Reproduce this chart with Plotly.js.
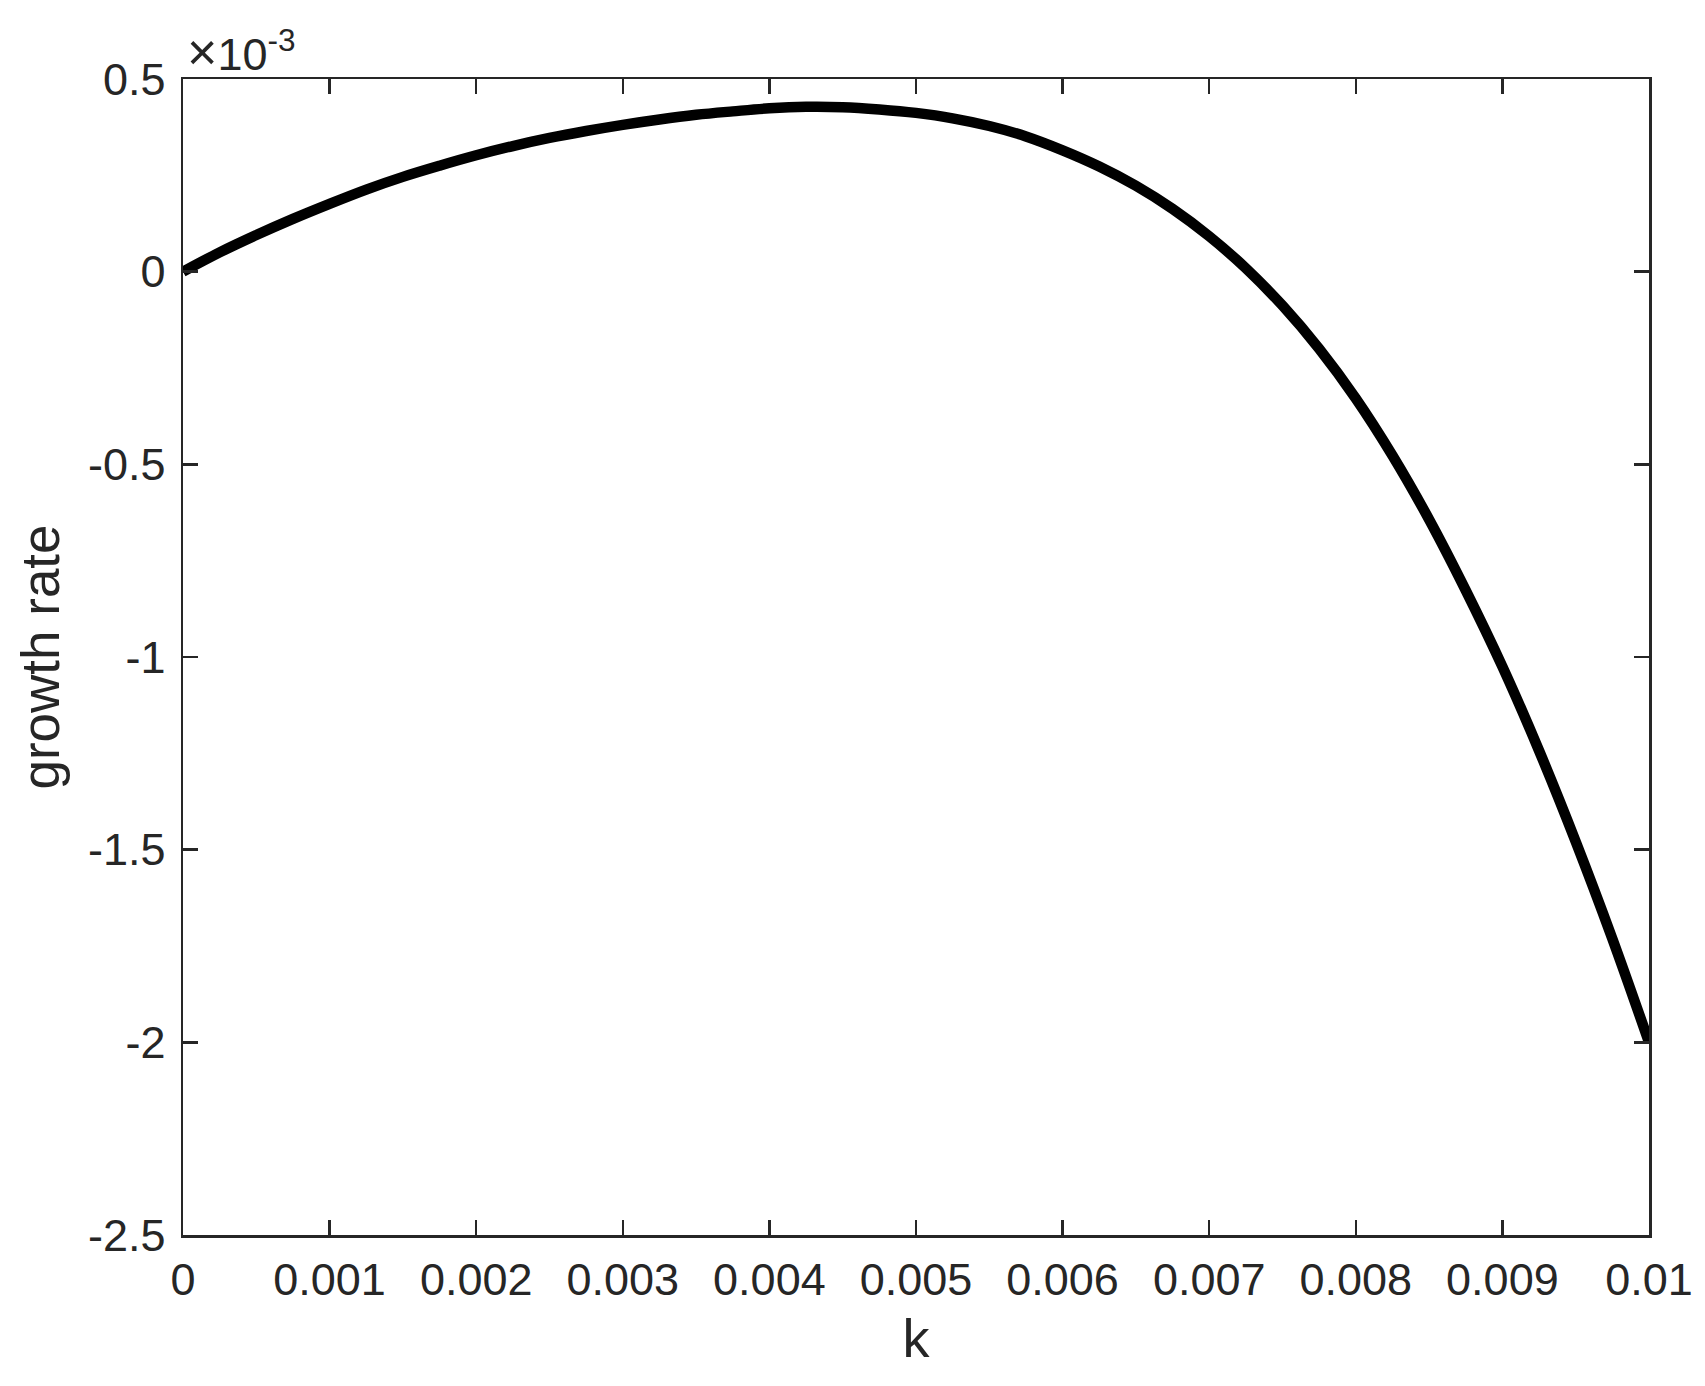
<!DOCTYPE html>
<html>
<head>
<meta charset="utf-8">
<script src="https://cdn.plot.ly/plotly-3.0.1.min.js"></script>
<style>
  html, body { margin: 0; padding: 0; background: #ffffff; }
  #chart { width: 1705px; height: 1386px; }
</style>
</head>
<body>
<div id="chart"></div>
<script>
// k values (wavenumber)
const k = [0, 0.00025, 0.0005, 0.00075, 0.001, 0.00125, 0.0015, 0.00175, 0.002, 0.00225,
           0.0025, 0.00275, 0.003, 0.00325, 0.0035, 0.00375, 0.004, 0.00425, 0.0045, 0.00475,
           0.005, 0.00525, 0.0055, 0.00575, 0.006, 0.00625, 0.0065, 0.00675, 0.007, 0.00725,
           0.0075, 0.00775, 0.008, 0.00825, 0.0085, 0.00875, 0.009, 0.00925, 0.0095, 0.00975,
           0.01];
// growth rate, in units of 1e-3 (as read on the axis with the ×10^-3 multiplier)
const growthRate = [0, 0.050, 0.095, 0.137, 0.176, 0.213, 0.246, 0.275, 0.302, 0.326,
                    0.347, 0.365, 0.381, 0.395, 0.407, 0.416, 0.424, 0.428, 0.427, 0.421,
                    0.412, 0.398, 0.378, 0.351, 0.315, 0.273, 0.223, 0.163, 0.092, 0.009,
                    -0.088, -0.200, -0.329, -0.477, -0.643, -0.827, -1.025, -1.243, -1.479, -1.731,
                    -2.0];
const xTickVals = [0, 0.001, 0.002, 0.003, 0.004, 0.005, 0.006, 0.007, 0.008, 0.009, 0.01];
const xTickText = ['0', '0.001', '0.002', '0.003', '0.004', '0.005', '0.006', '0.007', '0.008', '0.009', '0.01'];
const yTickVals = [-2.5, -2, -1.5, -1, -0.5, 0, 0.5];
const yTickText = ['-2.5', '-2', '-1.5', '-1', '-0.5', '0', '0.5'];
const xLabel = 'k';
const yLabel = 'growth rate';
const yMultiplier = '<span style="font-size:52px">×</span>10<sup>-3</sup>';

const axisColor = '#262626';
const fontFamily = 'Liberation Sans, Arial, Helvetica, sans-serif';

const trace = {
  x: k,
  y: growthRate,
  type: 'scatter',
  mode: 'lines',
  line: { color: '#000000', width: 10.5, shape: 'spline', smoothing: 1 },
  hoverinfo: 'skip'
};

const commonAxis = {
  showgrid: false,
  zeroline: false,
  showline: true,
  linecolor: axisColor,
  linewidth: 2.5,
  mirror: 'ticks',
  ticks: 'inside',
  ticklen: 15,
  tickwidth: 2.5,
  tickcolor: axisColor,
  tickfont: { family: fontFamily, size: 45, color: axisColor },
  tickmode: 'array'
};

const layout = {
  width: 1705,
  height: 1386,
  paper_bgcolor: '#ffffff',
  plot_bgcolor: '#ffffff',
  margin: { l: 183, r: 56, t: 79, b: 151, pad: 0 },
  showlegend: false,
  xaxis: Object.assign({}, commonAxis, {
    range: [0, 0.01],
    tickvals: xTickVals,
    ticktext: xTickText,
    ticklabelstandoff: 3,
    title: { text: xLabel, font: { family: fontFamily, size: 54, color: axisColor }, standoff: 16 }
  }),
  yaxis: Object.assign({}, commonAxis, {
    range: [-2.5, 0.5],
    tickvals: yTickVals,
    ticktext: yTickText,
    ticklabelstandoff: 6,
    title: { text: yLabel, font: { family: fontFamily, size: 53, color: axisColor }, standoff: 12 }
  }),
  annotations: [{
    xref: 'paper', yref: 'paper', x: 0, y: 1,
    xanchor: 'left', yanchor: 'bottom',
    xshift: 2, yshift: -4,
    showarrow: false,
    text: yMultiplier,
    font: { family: fontFamily, size: 45, color: axisColor }
  }]
};

Plotly.newPlot('chart', [trace], layout, { staticPlot: true, displayModeBar: false });
</script>
</body>
</html>
